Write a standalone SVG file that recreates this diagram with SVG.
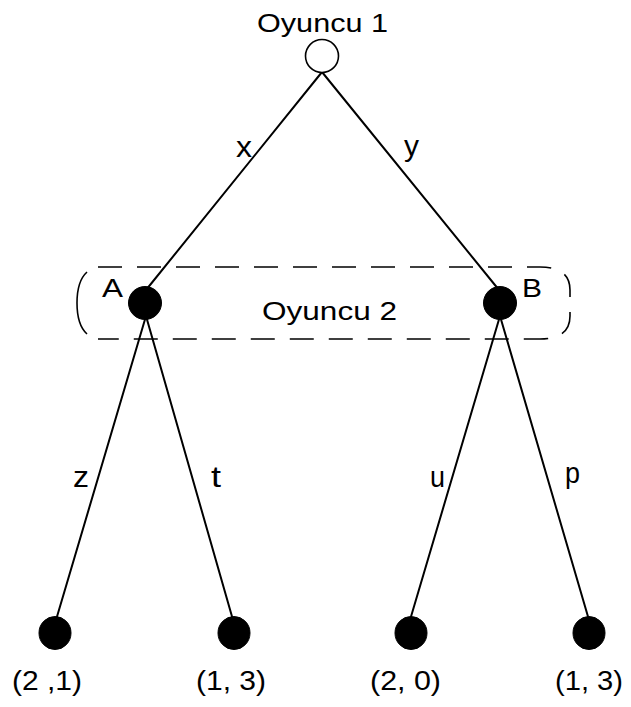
<svg xmlns="http://www.w3.org/2000/svg" width="631" height="707" viewBox="0 0 631 707">
  <style>
    .edge { stroke: #000; stroke-width: 2; fill: none; stroke-linecap: round; }
    .decision { fill: #000; stroke: #000; stroke-width: 1; }
    .start { fill: #fff; stroke: #000; stroke-width: 1.6; }
    .lbl { font-family: "Liberation Sans", Arial, sans-serif; fill: #000; }
    .player { font-size: 26px; }
    .node-name { font-size: 25px; }
    .move { font-size: 29px; }
    .payoff { font-size: 28px; }
    .info { stroke: #000; stroke-width: 1.6; fill: none; }
    .info-dash { stroke-dasharray: 24 15; }
  </style>

  <!-- branches of the game tree -->
  <g id="connectors">
    <line class="edge" x1="322" y1="72" x2="146" y2="290"/>
    <line class="edge" x1="322" y1="72" x2="499" y2="290"/>
    <line class="edge" x1="146" y1="316" x2="56" y2="620"/>
    <line class="edge" x1="146" y1="316" x2="233" y2="620"/>
    <line class="edge" x1="500" y1="316" x2="410" y2="620"/>
    <line class="edge" x1="500" y1="316" x2="589" y2="620"/>
    <text class="lbl move" x="236" y="157" textLength="16" lengthAdjust="spacingAndGlyphs">x</text>
    <text class="lbl move" x="404" y="156" textLength="15" lengthAdjust="spacingAndGlyphs">y</text>
    <text class="lbl move" x="73" y="487" textLength="16" lengthAdjust="spacingAndGlyphs">z</text>
    <text class="lbl move" x="211" y="487" textLength="10" lengthAdjust="spacingAndGlyphs">t</text>
    <text class="lbl move" x="430" y="487" textLength="15" lengthAdjust="spacingAndGlyphs">u</text>
    <text class="lbl move" x="565" y="483" textLength="15" lengthAdjust="spacingAndGlyphs">p</text>
  </g>

  <!-- information set of player 2 -->
  <g id="info-set">
    <path class="info" d="M87,272 Q77,281 77,303 Q77,325 87,334"/>
    <path class="info info-dash" d="M98,267 H540 Q570,267 570,290 V316 Q570,339 540,339 H98"/>
    <text class="lbl player" x="262" y="320" textLength="135" lengthAdjust="spacingAndGlyphs">Oyuncu 2</text>
  </g>

  <!-- root: player 1 -->
  <g id="root">
    <text class="lbl player" x="257" y="32" textLength="131" lengthAdjust="spacingAndGlyphs">Oyuncu 1</text>
    <circle class="start" cx="322" cy="56" r="16.5"/>
  </g>

  <g id="node-A">
    <circle class="decision" cx="145" cy="303" r="16.5"/>
    <text class="lbl node-name" x="102" y="297" textLength="21" lengthAdjust="spacingAndGlyphs">A</text>
  </g>

  <g id="node-B">
    <circle class="decision" cx="500" cy="303" r="16.5"/>
    <text class="lbl node-name" x="522" y="297" textLength="20" lengthAdjust="spacingAndGlyphs">B</text>
  </g>

  <!-- terminal nodes with payoffs -->
  <g id="leaf-z">
    <ellipse class="decision" cx="55" cy="633" rx="16" ry="16.5"/>
    <text class="lbl payoff" x="12" y="690" textLength="70" lengthAdjust="spacingAndGlyphs">(2 ,1)</text>
  </g>
  <g id="leaf-t">
    <ellipse class="decision" cx="234" cy="633" rx="16" ry="16.5"/>
    <text class="lbl payoff" x="196" y="690" textLength="70" lengthAdjust="spacingAndGlyphs">(1, 3)</text>
  </g>
  <g id="leaf-u">
    <ellipse class="decision" cx="411" cy="633" rx="16" ry="16.5"/>
    <text class="lbl payoff" x="370" y="690" textLength="71" lengthAdjust="spacingAndGlyphs">(2, 0)</text>
  </g>
  <g id="leaf-p">
    <ellipse class="decision" cx="589" cy="633" rx="16" ry="16.5"/>
    <text class="lbl payoff" x="555" y="690" textLength="68" lengthAdjust="spacingAndGlyphs">(1, 3)</text>
  </g>
</svg>
